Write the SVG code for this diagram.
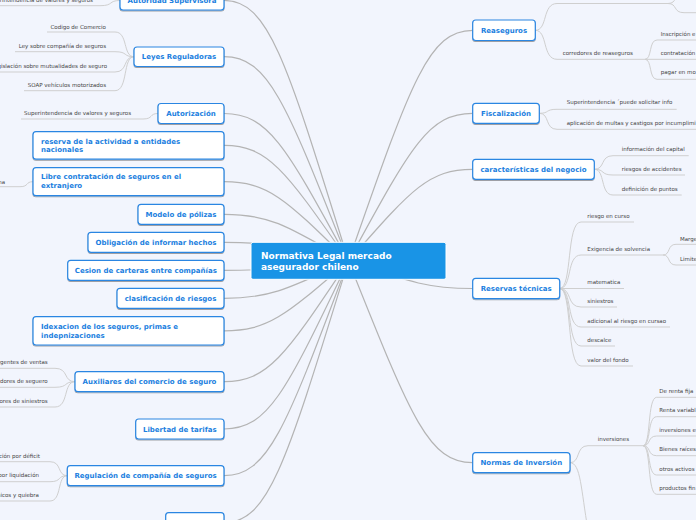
<svg xmlns="http://www.w3.org/2000/svg" width="696" height="520" viewBox="0 0 696 520">
<defs>
<filter id="sh" x="-10%" y="-20%" width="120%" height="160%">
<feDropShadow dx="0" dy="1" stdDeviation="0.6" flood-color="#000" flood-opacity="0.35"/>
</filter>
<style>
.m{fill:none;stroke:#b4b4b4;stroke-width:1.2}
.l{fill:none;stroke:#cfcfcf;stroke-width:1}
.box{fill:#fff;stroke:#2a86e2;stroke-width:1.2;filter:url(#sh)}
.t{font-family:"DejaVu Sans",Verdana,sans-serif;font-weight:bold;font-size:7px;fill:#1c7fe0}
.c{text-anchor:middle}
.lf{font-family:"DejaVu Sans",Verdana,sans-serif;font-size:5.5px;fill:#444}
.e{text-anchor:end}
.ct{font-family:"DejaVu Sans",Verdana,sans-serif;font-weight:bold;font-size:9px;fill:#fff}
</style>
</defs>
<rect width="696" height="520" fill="#f2f5fd"/>
<g id="connectors">
<path class="m" d="M224,0.5 C268.8,0.5 286.3,60.4 348.5,261"/>
<path class="m" d="M224,56.7 C268.8,56.7 286.3,103.7 348.5,261"/>
<path class="m" d="M224,113.5 C268.8,113.5 286.3,147.4 348.5,261"/>
<path class="m" d="M224,145.4 C268.8,145.4 286.3,172 348.5,261"/>
<path class="m" d="M224,181.7 C268.8,181.7 286.3,199.9 348.5,261"/>
<path class="m" d="M224,214.3 C268.8,214.3 286.3,225.1 348.5,261"/>
<path class="m" d="M224,242.3 C268.8,242.3 286.3,246.6 348.5,261"/>
<path class="m" d="M224,270.3 C268.8,270.3 286.3,268.2 348.5,261"/>
<path class="m" d="M224,298.3 C268.8,298.3 286.3,289.7 348.5,261"/>
<path class="m" d="M224,330.8 C268.8,330.8 286.3,314.7 348.5,261"/>
<path class="m" d="M224,381.7 C268.8,381.7 286.3,353.9 348.5,261"/>
<path class="m" d="M224,429 C268.8,429 286.3,390.4 348.5,261"/>
<path class="m" d="M224,475.7 C268.8,475.7 286.3,426.3 348.5,261"/>
<path class="m" d="M224,522.7 C268.8,522.7 286.3,462.5 348.5,261"/>
<path class="m" d="M472.7,30.3 C428,30.3 410.6,83.4 348.5,261"/>
<path class="m" d="M472.7,113.3 C428,113.3 410.6,147.3 348.5,261"/>
<path class="m" d="M472.7,169.3 C428,169.3 410.6,190.4 348.5,261"/>
<path class="m" d="M472.7,288.5 C428,288.5 410.6,282.2 348.5,261"/>
<path class="m" d="M472.7,462.7 C428,462.7 410.6,416.3 348.5,261"/>
<path class="l" d="M120,0.5 C108,0.5 114,5.7 100,5.7 L0,5.7"/>
<path class="l" d="M134,56.7 C122.6,56.7 128.3,32 115,32 L47,32"/>
<path class="l" d="M134,56.7 C122.6,56.7 128.3,51.7 115,51.7 L15,51.7"/>
<path class="l" d="M134,56.7 C122.6,56.7 128.3,72 115,72 L0,72"/>
<path class="l" d="M134,56.7 C122.6,56.7 128.3,90.7 115,90.7 L24,90.7"/>
<path class="l" d="M158,113.5 C149,113.5 153.5,119 143,119 L21,119"/>
<path class="l" d="M33,181.7 C25.2,181.7 29.1,186.7 20,186.7 L0,186.7"/>
<path class="l" d="M75,381.7 C63,381.7 69,368.3 55,368.3 L0,368.3"/>
<path class="l" d="M75,381.7 C63,381.7 69,387.3 55,387.3 L0,387.3"/>
<path class="l" d="M75,381.7 C63,381.7 69,407 55,407 L0,407"/>
<path class="l" d="M67.3,475.7 C56.9,475.7 62.1,461.7 50,461.7 L0,461.7"/>
<path class="l" d="M67.3,475.7 C56.9,475.7 62.1,481.7 50,481.7 L0,481.7"/>
<path class="l" d="M67.3,475.7 C56.9,475.7 62.1,501 50,501 L0,501"/>
<path class="l" d="M535.3,30.3 C548,30.3 542,3.5 557,3.5 L668,3.5"/>
<path class="l" d="M535.3,30.3 C548,30.3 542,59.3 557,59.3 L645,59.3"/>
<path class="l" d="M668,3.5 C677.6,3.5 672.8,12.7 684,12.7 L696,12.7"/>
<path class="l" d="M668,3.5 C677.6,3.5 672.8,-6 684,-6 L696,-6"/>
<path class="l" d="M645,59.3 C652.2,59.3 648.6,40 657,40 L696,40"/>
<path class="l" d="M645,59.3 L696,59.3"/>
<path class="l" d="M645,59.3 C652.2,59.3 648.6,79.3 657,79.3 L696,79.3"/>
<path class="l" d="M539.3,113.3 C550,113.3 544.6,109.3 557,109.3 L676.7,109.3"/>
<path class="l" d="M539.3,113.3 C550,113.3 544.6,129.3 557,129.3 L696,129.3"/>
<path class="l" d="M594.3,169.3 C605.5,169.3 599.9,155.7 613,155.7 L688.7,155.7"/>
<path class="l" d="M594.3,169.3 C605.5,169.3 599.9,175 613,175 L685,175"/>
<path class="l" d="M594.3,169.3 C605.5,169.3 599.9,195 613,195 L681.7,195"/>
<path class="l" d="M559.7,288.5 C572.5,288.5 566.1,222 581,222 L634,222"/>
<path class="l" d="M559.7,288.5 C572.5,288.5 566.1,255 581,255 L663,255"/>
<path class="l" d="M559.7,288.5 L624,288.5"/>
<path class="l" d="M559.7,288.5 C572.5,288.5 566.1,307 581,307 L617,307"/>
<path class="l" d="M559.7,288.5 C572.5,288.5 566.1,327 581,327 L670,327"/>
<path class="l" d="M559.7,288.5 C572.5,288.5 566.1,346 581,346 L615,346"/>
<path class="l" d="M559.7,288.5 C572.5,288.5 566.1,366 581,366 L633,366"/>
<path class="l" d="M663,255 C670.8,255 666.9,244.3 676,244.3 L696,244.3"/>
<path class="l" d="M663,255 C670.8,255 666.9,265 676,265 L696,265"/>
<path class="l" d="M570,462.7 C580.8,462.7 575.4,445.7 588,445.7 L643,445.7"/>
<path class="l" d="M570,462.7 C580.8,462.7 581,490 588,530"/>
<path class="l" d="M643,445.7 C651.2,445.7 647.1,397.3 656.7,397.3 L696,397.3"/>
<path class="l" d="M643,445.7 C651.2,445.7 647.1,416.7 656.7,416.7 L696,416.7"/>
<path class="l" d="M643,445.7 C651.2,445.7 647.1,436 656.7,436 L696,436"/>
<path class="l" d="M643,445.7 C651.2,445.7 647.1,455.7 656.7,455.7 L696,455.7"/>
<path class="l" d="M643,445.7 C651.2,445.7 647.1,475 656.7,475 L696,475"/>
<path class="l" d="M643,445.7 C651.2,445.7 647.1,494.3 656.7,494.3 L696,494.3"/>
</g>
<g id="leaves">
<text class="lf e" x="93" y="2">Superintendencia de valores y seguros</text>
<text class="lf e" x="106" y="28.7">Codigo de Comercio</text>
<text class="lf e" x="106" y="47.7">Ley sobre compañía de seguros</text>
<text class="lf e" x="107" y="68">Legislación sobre mutualidades de seguro</text>
<text class="lf e" x="106" y="87">SOAP vehículos motorizados</text>
<text class="lf" x="24" y="115.3">Superintendencia de valores y seguros</text>
<text class="lf e" x="5" y="184.3">na</text>
<text class="lf e" x="47.7" y="364.3">agentes de ventas</text>
<text class="lf e" x="47.7" y="383">dores de seguero</text>
<text class="lf e" x="47.7" y="403">ores de siniestros</text>
<text class="lf e" x="40" y="457.7">ción por déficit</text>
<text class="lf e" x="39" y="477">por liquidación</text>
<text class="lf e" x="39" y="497.3">nicos y quiebra</text>
<text class="lf" x="562.7" y="55">corredores de reaseguros</text>
<text class="lf" x="660.7" y="36">Inscripción e</text>
<text class="lf" x="660.7" y="55">contratación</text>
<text class="lf" x="660.7" y="74.3">pagar en mo</text>
<text class="lf" x="566.7" y="104.3">Superintendencia ´puede solicitar info</text>
<text class="lf" x="566.7" y="125.3">aplicación de multas y castigos por incumplimi</text>
<text class="lf" x="621.7" y="151.3">información del capital</text>
<text class="lf" x="621.7" y="171">riesgos de accidentes</text>
<text class="lf" x="621.7" y="191">definición de puntos</text>
<text class="lf" x="587.3" y="218">riesgo en curso</text>
<text class="lf" x="587.3" y="251">Exigencia de solvencia</text>
<text class="lf" x="587.3" y="284">matematica</text>
<text class="lf" x="587.3" y="303">siniestros</text>
<text class="lf" x="587.3" y="323">adicional al riesgo en cursao</text>
<text class="lf" x="587.3" y="342">descalce</text>
<text class="lf" x="587.3" y="362">valor del fondo</text>
<text class="lf" x="680" y="241">Marge</text>
<text class="lf" x="680" y="261">Limite</text>
<text class="lf" x="597.7" y="441">inversiones</text>
<text class="lf" x="659.3" y="392.7">De renta fija</text>
<text class="lf" x="659.3" y="412">Renta variabl</text>
<text class="lf" x="659.3" y="432">inversiones e</text>
<text class="lf" x="659.3" y="451.3">Bienes raíces</text>
<text class="lf" x="659.3" y="471">otros activos</text>
<text class="lf" x="659.3" y="490.3">productos fin</text>
</g>
<g id="n_autoridad"><rect class="box" x="120" y="-10" width="104" height="20" rx="3"/><text class="t c" x="172" y="3">Autoridad Supervisora</text></g>
<g id="n_leyes"><rect class="box" x="134" y="47" width="90" height="19.5" rx="3"/><text class="t c" x="179" y="59.2">Leyes Reguladoras</text></g>
<g id="n_autorizacion"><rect class="box" x="158" y="103.5" width="66" height="20" rx="3"/><text class="t c" x="191" y="116">Autorización</text></g>
<g id="n_reserva"><rect class="box" x="33" y="131.7" width="191" height="27.5" rx="3"/><text class="t" x="41" y="143.5">reserva de la actividad a entidades</text><text class="t" x="41" y="151.8">nacionales</text></g>
<g id="n_libre"><rect class="box" x="33" y="167.7" width="191" height="28" rx="3"/><text class="t" x="41" y="179.2">Libre contratación de seguros en el</text><text class="t" x="41" y="188.2">extranjero</text></g>
<g id="n_modelo"><rect class="box" x="138" y="204.3" width="86" height="20" rx="3"/><text class="t c" x="181" y="216.8">Modelo de pólizas</text></g>
<g id="n_obligacion"><rect class="box" x="88" y="232.3" width="136" height="20" rx="3"/><text class="t c" x="156" y="244.8">Obligación de informar hechos</text></g>
<g id="n_cesion"><rect class="box" x="67.7" y="260.3" width="156.3" height="20" rx="3"/><text class="t c" x="145.8" y="272.8">Cesion de carteras entre compañías</text></g>
<g id="n_clasificacion"><rect class="box" x="117" y="288.3" width="107" height="20" rx="3"/><text class="t c" x="170.5" y="300.8">clasificación de riesgos</text></g>
<g id="n_idexacion"><rect class="box" x="33" y="316.7" width="191" height="28.3" rx="3"/><text class="t" x="41" y="329.2">Idexacion de los seguros, primas e</text><text class="t" x="41" y="337.5">indepnizaciones</text></g>
<g id="n_auxiliares"><rect class="box" x="75" y="371.7" width="149" height="20" rx="3"/><text class="t c" x="149.5" y="384.2">Auxiliares del comercio de seguro</text></g>
<g id="n_libertad"><rect class="box" x="135.7" y="419" width="88.3" height="20" rx="3"/><text class="t c" x="179.8" y="431.5">Libertad de tarifas</text></g>
<g id="n_regulacion"><rect class="box" x="67.3" y="465.7" width="156.7" height="20" rx="3"/><text class="t c" x="145.6" y="478.2">Regulación de compañía de seguros</text></g>
<g id="n_bottom"><rect class="box" x="165.7" y="512.7" width="58.3" height="20" rx="3"/></g>
<g id="n_reaseguros"><rect class="box" x="472.7" y="20" width="62.6" height="20.5" rx="3"/><text class="t c" x="504" y="32.8">Reaseguros</text></g>
<g id="n_fiscalizacion"><rect class="box" x="472.7" y="103.3" width="66.6" height="20" rx="3"/><text class="t c" x="506" y="115.8">Fiscalización</text></g>
<g id="n_caracteristicas"><rect class="box" x="472.7" y="159.3" width="121.6" height="20" rx="3"/><text class="t c" x="533.5" y="171.8">características del negocio</text></g>
<g id="n_reservas"><rect class="box" x="472.7" y="278.3" width="87" height="20.4" rx="3"/><text class="t c" x="516.2" y="291">Reservas técnicas</text></g>
<g id="n_normas"><rect class="box" x="472.7" y="452.7" width="97.3" height="20" rx="3"/><text class="t c" x="521.3" y="465.2">Normas de Inversión</text></g>
<g id="n_central"><rect x="251" y="242.3" width="195" height="37" rx="2" fill="#1994e6" stroke="#fff" stroke-width="1"/><text class="ct" x="261" y="259">Normativa Legal mercado</text><text class="ct" x="261" y="269.5">asegurador chileno</text></g>
</svg>
